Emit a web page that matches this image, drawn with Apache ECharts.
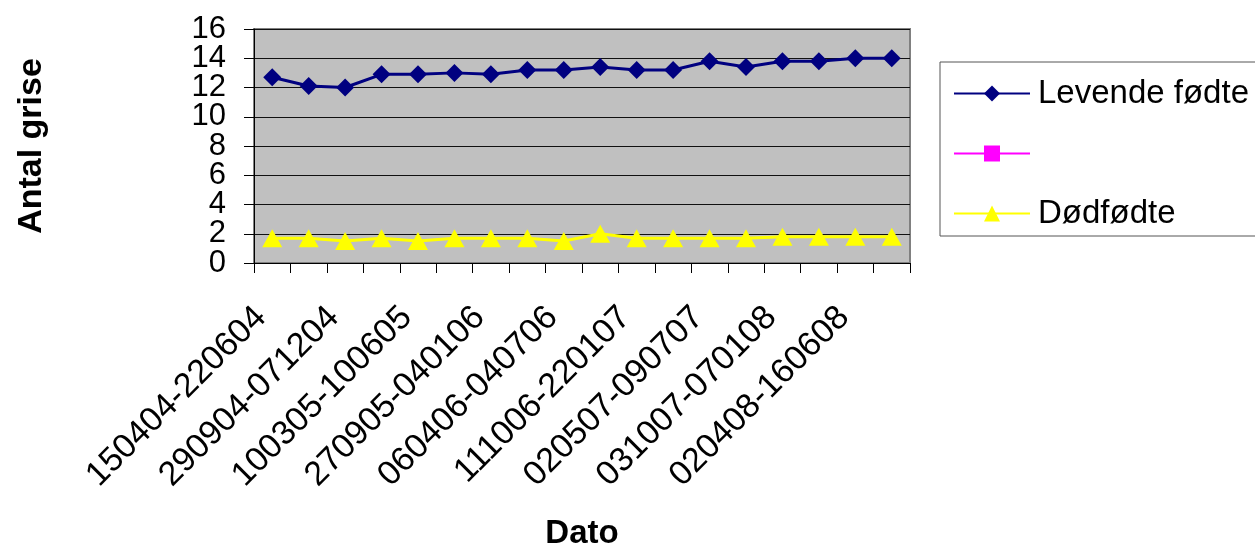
<!DOCTYPE html>
<html>
<head>
<meta charset="utf-8">
<title>Antal grise</title>
<script src="https://cdn.jsdelivr.net/npm/echarts@6/dist/echarts.min.js"></script>
<style>
  html, body { margin: 0; padding: 0; background: #fff; }
  #chart { width: 1255px; height: 551px; }
</style>
</head>
<body>
<div id="chart"></div>
<script>
// Litter periods (every other period is labelled on the axis)
const periods = [
  '150404-220604', '', '290904-071204', '', '100305-100605', '',
  '270905-040106', '', '060406-040706', '', '111006-220107', '',
  '020507-090707', '', '031007-070108', '', '020408-160608', ''
];

// Average piglets per litter
const levendeFodte = [12.7, 12.1, 12.0, 12.9, 12.9, 13.0, 12.9, 13.2, 13.2,
                      13.4, 13.2, 13.2, 13.8, 13.4, 13.8, 13.8, 14.0, 14.0];
const dodfodte = [1.7, 1.7, 1.5, 1.7, 1.5, 1.7, 1.7, 1.7, 1.5,
                  2.0, 1.7, 1.7, 1.7, 1.7, 1.8, 1.8, 1.8, 1.8];
const tomSerie = [];

const yTicks = { min: 0, max: 16, step: 2 };

const FONT = '"Liberation Sans", Arial, sans-serif';

// The value labels are split over two overlaid axes (alternate ticks on each)
// so that the tall digits never collide and every tick keeps its label.
function yLabelAxis(showEven, withLines) {
  return {
    type: 'value',
    position: 'left',
    min: yTicks.min, max: yTicks.max, interval: yTicks.step,
    axisLine: { show: withLines, lineStyle: { color: '#000', width: 1 } },
    axisTick: { show: withLines, length: 10, lineStyle: { color: '#000' } },
    axisLabel: {
      margin: 28, color: '#000',
      showMinLabel: true, showMaxLabel: true, hideOverlap: false,
      formatter: function (v) {
        const even = Math.round(v / yTicks.step) % 2 === 0;
        return even === showEven ? '{v|' + v + '}' : '';
      },
      rich: { v: { fontFamily: FONT, fontSize: 31, lineHeight: 24, color: '#000' } }
    },
    splitLine: { show: withLines, lineStyle: { color: '#111', width: 1 } }
  };
}

const yMain = yLabelAxis(true, true);
yMain.name = 'Antal grise';
yMain.nameLocation = 'middle';
yMain.nameGap = 205;
yMain.nameTextStyle = { fontFamily: FONT, fontSize: 34, fontWeight: 'bold', color: '#000' };
const yAlt = yLabelAxis(false, false);

const chart = echarts.init(document.getElementById('chart'), null, { renderer: 'canvas' });

chart.setOption({
  animation: false,
  backgroundColor: '#ffffff',
  textStyle: { fontFamily: FONT, color: '#000' },
  grid: {
    left: 254, right: 345, top: 29, bottom: 285,
    show: true,
    backgroundColor: '#C0C0C0',
    borderColor: '#808080',
    borderWidth: 2
  },
  legend: {
    orient: 'vertical',
    left: 940, top: 62,
    padding: [15, 30, 6, 13],
    itemWidth: 76, itemHeight: 20,
    itemGap: 27,
    borderColor: '#555',
    borderWidth: 1,
    backgroundColor: '#fff',
    lineStyle: { width: 2 },
    textStyle: { fontFamily: FONT, fontSize: 33, color: '#000', lineHeight: 32, padding: [0, 0, 0, 3] },
    data: ['Levende fødte', '\u00a0', 'Dødfødte']
  },
  xAxis: {
    type: 'category',
    data: periods,
    boundaryGap: true,
    name: 'Dato',
    nameLocation: 'middle',
    nameGap: 254,
    nameTextStyle: { fontFamily: FONT, fontSize: 33, fontWeight: 'bold', color: '#000' },
    axisLine: { show: true, lineStyle: { color: '#000', width: 1 } },
    axisTick: { show: true, interval: 0, length: 10, lineStyle: { color: '#000' } },
    axisLabel: {
      interval: 0, rotate: 45, margin: 38,
      padding: [0, 16, 0, 0],
      fontFamily: FONT, fontSize: 34, color: '#000'
    },
    splitLine: { show: false }
  },
  yAxis: [yMain, yAlt],
  series: [
    {
      name: 'Levende fødte',
      type: 'line',
      yAxisIndex: 0,
      data: levendeFodte,
      symbol: 'diamond',
      symbolSize: [18, 18],
      lineStyle: { color: '#000080', width: 3 },
      itemStyle: { color: '#000080' }
    },
    {
      name: '\u00a0',
      type: 'line',
      yAxisIndex: 0,
      data: tomSerie,
      symbol: 'rect',
      symbolSize: 13,
      lineStyle: { color: '#FF00FF', width: 3 },
      itemStyle: { color: '#FF00FF' }
    },
    {
      name: 'Dødfødte',
      type: 'line',
      yAxisIndex: 0,
      data: dodfodte,
      symbol: 'triangle',
      symbolSize: [20, 18],
      lineStyle: { color: '#FFFF00', width: 3 },
      itemStyle: { color: '#FFFF00' }
    }
  ]
});
</script>
</body>
</html>
